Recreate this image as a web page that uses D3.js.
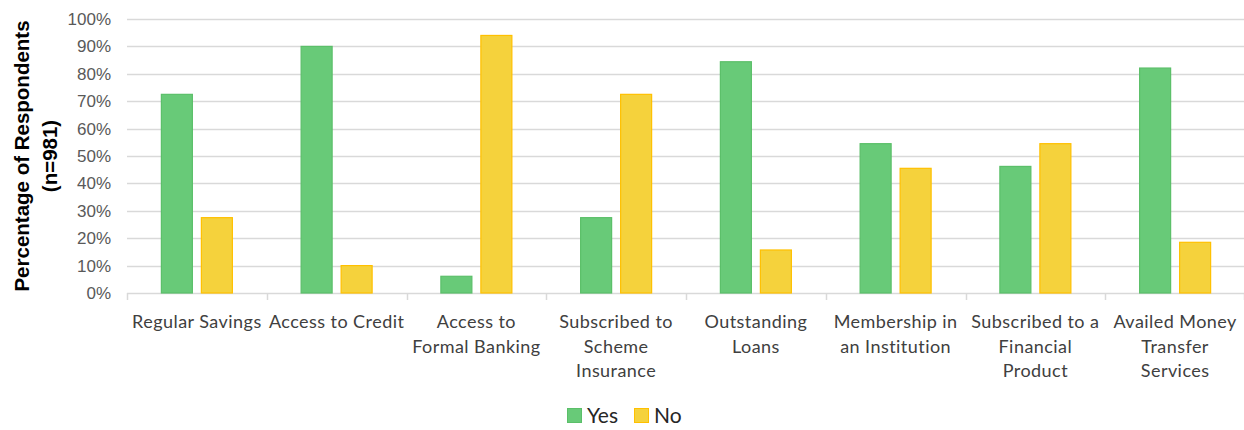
<!DOCTYPE html>
<html>
<head>
<meta charset="utf-8">
<script src="https://cdn.jsdelivr.net/npm/d3@7"></script>
<style>
  body { margin: 0; background: #fff; }
</style>
</head>
<body>
<script>
// Chart data
var categories = ["Regular Savings", "Access to Credit", "Access to Formal Banking",
    "Subscribed to Scheme Insurance", "Outstanding Loans", "Membership in an Institution",
    "Subscribed to a Financial Product", "Availed Money Transfer Services"];
var categoryLines = [["Regular Savings"], ["Access to Credit"], ["Access to", "Formal Banking"],
    ["Subscribed to", "Scheme", "Insurance"], ["Outstanding", "Loans"], ["Membership in", "an Institution"],
    ["Subscribed to a", "Financial", "Product"], ["Availed Money", "Transfer", "Services"]];
var series = ["Yes", "No"];
var yesValues = [72.5, 90.0, 6.1, 27.5, 84.4, 54.5, 46.2, 82.1];
var noValues = [27.5, 10.0, 94.0, 72.5, 15.7, 45.5, 54.5, 18.5];
var yTicks = [0, 10, 20, 30, 40, 50, 60, 70, 80, 90, 100];

var fills = { Yes: "#68ca78", No: "#f5d23c" };
var strokes = { Yes: "#5bbf69", No: "#ffc000" };

var width = 1244, height = 430;
var margin = { top: 19, right: 0, bottom: 137, left: 127 };

let svg = d3.select("body").append("svg")
    .attr("width", width)
    .attr("height", height);

// Scales
let xScale = d3.scaleBand()
    .domain(categories)
    .range([margin.left, 1245]);

let xInner = d3.scaleBand()
    .domain(series)
    .range([0, 72])
    .paddingInner(0.2);

let yScale = d3.scaleLinear()
    .domain([0, 100])
    .range([height - margin.bottom, margin.top]);

// Gridlines
svg.append("g")
    .selectAll("line")
    .data(yTicks)
    .enter()
    .append("line")
    .attr("x1", margin.left)
    .attr("x2", width)
    .attr("y1", d => Math.round(yScale(d)) + 0.5)
    .attr("y2", d => Math.round(yScale(d)) + 0.5)
    .attr("stroke", "#d9d9d9")
    .attr("stroke-width", 1.5);

// y axis labels
let yAxis = d3.axisLeft(yScale)
    .tickValues(yTicks)
    .tickFormat(d => d + "%")
    .tickSize(0)
    .tickPadding(16);
svg.append("g")
    .attr("transform", "translate(" + margin.left + ",0)")
    .call(yAxis)
    .call(g => g.select(".domain").remove())
    .call(g => g.selectAll("text")
        .attr("font-family", "Liberation Sans, Arial, sans-serif")
        .attr("font-size", "17px")
        .attr("fill", "#595959"));

// Category tick marks at the boundaries
let bounds = categories.map(c => xScale(c)).concat([xScale.range()[1] - 1]);
svg.append("g")
    .selectAll("line")
    .data(bounds)
    .enter()
    .append("line")
    .attr("x1", d => Math.round(d) + 0.5)
    .attr("x2", d => Math.round(d) + 0.5)
    .attr("y1", yScale(0))
    .attr("y2", yScale(0) + 7)
    .attr("stroke", "#d9d9d9")
    .attr("stroke-width", 1.5);

// Bars
let offset = (xScale.bandwidth() - 72) / 2;
let rows = categories.map((c, i) => ({ category: c, Yes: yesValues[i], No: noValues[i] }));

let groups = svg.append("g")
    .selectAll("g")
    .data(rows)
    .enter()
    .append("g")
    .attr("transform", d => "translate(" + (xScale(d.category) + offset) + ",0)");

groups.selectAll("rect")
    .data(d => series.map(s => ({ key: s, value: d[s] })))
    .enter()
    .append("rect")
    .attr("x", d => xInner(d.key) + 0.5)
    .attr("y", d => yScale(d.value))
    .attr("width", xInner.bandwidth() - 1)
    .attr("height", d => yScale(0) - yScale(d.value))
    .attr("fill", d => fills[d.key])
    .attr("stroke", d => strokes[d.key])
    .attr("stroke-width", 1.2);

// Category labels
let labels = svg.append("g")
    .selectAll("text")
    .data(categories)
    .enter()
    .append("text")
    .attr("text-anchor", "middle")
    .attr("font-family", "Lato, sans-serif")
    .attr("font-size", "18px")
    .attr("letter-spacing", "0.45px")
    .attr("fill", "#404040")
    .attr("x", d => xScale(d) + xScale.bandwidth() / 2)
    .attr("y", 328);

labels.each(function (d, i) {
    d3.select(this).selectAll("tspan")
        .data(categoryLines[i])
        .enter()
        .append("tspan")
        .attr("x", xScale(d) + xScale.bandwidth() / 2)
        .attr("dy", (l, j) => j === 0 ? 0 : 24.5)
        .text(l => l);
});

// Y axis title
svg.append("text")
    .attr("transform", "translate(29," + ((yScale(0) + yScale(100)) / 2) + ") rotate(-90)")
    .attr("text-anchor", "middle")
    .attr("font-family", "Liberation Sans, Arial, sans-serif")
    .attr("font-weight", "bold")
    .attr("font-size", "20.5px")
    .attr("fill", "#000")
    .selectAll("tspan")
    .data(["Percentage of Respondents", "(n=981)"])
    .enter()
    .append("tspan")
    .attr("x", 0)
    .attr("dy", (d, i) => i === 0 ? 0 : 28)
    .text(d => d);

// Legend
let legend = svg.append("g")
    .attr("transform", "translate(567,415.5)");
let legendX = { Yes: 0, No: 67 };
let items = legend.selectAll("g")
    .data(series)
    .enter()
    .append("g")
    .attr("transform", d => "translate(" + legendX[d] + ",0)");
items.append("rect")
    .attr("x", 0.5)
    .attr("y", -7)
    .attr("width", 14)
    .attr("height", 14)
    .attr("fill", d => fills[d])
    .attr("stroke", d => strokes[d]);
items.append("text")
    .attr("x", 20)
    .attr("y", 7.5)
    .attr("font-family", "Lato, sans-serif")
    .attr("font-size", "21px")
    .attr("fill", "#262626")
    .text(d => d);
</script>
</body>
</html>
